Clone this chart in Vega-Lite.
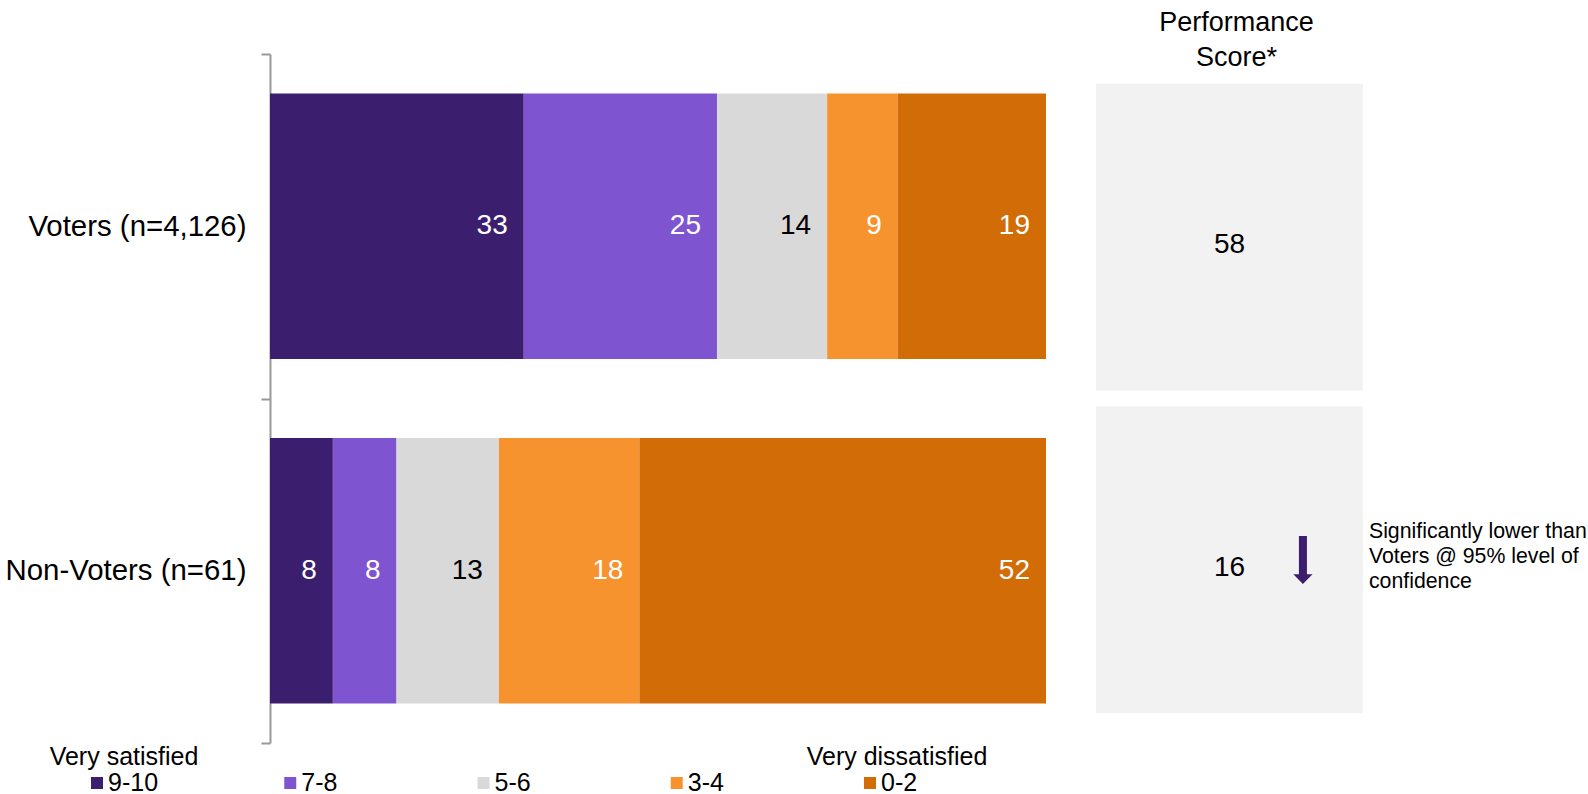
{
  "$schema": "https://vega.github.io/schema/vega-lite/v6.json",
  "padding": {"left": 5, "top": 9, "right": 0, "bottom": 0},
  "background": "#ffffff",
  "config": {
    "view": {"stroke": null},
    "font": "Liberation Sans",
    "text": {"font": "Liberation Sans", "color": "#000000"}
  },
  "datasets": {
    "bars": [
      {"group": "Voters (n=4,126)", "rating": "9-10", "pct": 32.7},
      {"group": "Voters (n=4,126)", "rating": "7-8", "pct": 24.9},
      {"group": "Voters (n=4,126)", "rating": "5-6", "pct": 14.2},
      {"group": "Voters (n=4,126)", "rating": "3-4", "pct": 9.1},
      {"group": "Voters (n=4,126)", "rating": "0-2", "pct": 19.1},
      {"group": "Non-Voters (n=61)", "rating": "9-10", "pct": 8.1},
      {"group": "Non-Voters (n=61)", "rating": "7-8", "pct": 8.2},
      {"group": "Non-Voters (n=61)", "rating": "5-6", "pct": 13.2},
      {"group": "Non-Voters (n=61)", "rating": "3-4", "pct": 18.1},
      {"group": "Non-Voters (n=61)", "rating": "0-2", "pct": 52.4}
    ],
    "scores": [
      {"group": "Voters (n=4,126)", "score": 58, "note": ""},
      {"group": "Non-Voters (n=61)", "score": 16, "note": "Significantly lower than\nVoters @ 95% level of\nconfidence"}
    ],
    "legend": [
      {"rating": "9-10", "end": "Very satisfied"},
      {"rating": "7-8", "end": ""},
      {"rating": "5-6", "end": ""},
      {"rating": "3-4", "end": ""},
      {"rating": "0-2", "end": "Very dissatisfied"}
    ]
  },
  "spacing": 0,
  "vconcat": [
    {
      "hconcat": [
        {
          "width": 776,
          "height": 689,
          "data": {"name": "bars"},
          "transform": [
            {"calculate": "indexof(['9-10','7-8','5-6','3-4','0-2'], datum.rating)", "as": "ord"}
          ],
          "encoding": {
            "y": {
              "field": "group",
              "type": "nominal",
              "sort": ["Voters (n=4,126)", "Non-Voters (n=61)"],
              "scale": {"paddingInner": 0, "paddingOuter": 0},
              "axis": {
                "title": null,
                "tickBand": "extent",
                "domainColor": "#999999",
                "domainWidth": 2,
                "tickColor": "#999999",
                "tickWidth": 2,
                "tickSize": 9,
                "labelFontSize": 29.4,
                "labelFont": "Liberation Sans",
                "labelColor": "#000000",
                "labelPadding": 15,
                "labelLimit": 400
              }
            },
            "x": {
              "field": "pct",
              "type": "quantitative",
              "stack": "zero",
              "scale": {"domain": [0, 100], "nice": false},
              "axis": null
            },
            "order": {"field": "ord", "type": "quantitative"}
          },
          "layer": [
            {
              "mark": {"type": "bar", "height": {"band": 0.77}},
              "encoding": {
                "color": {
                  "field": "rating",
                  "type": "nominal",
                  "scale": {
                    "domain": ["9-10", "7-8", "5-6", "3-4", "0-2"],
                    "range": ["#3c1e6e", "#7f54d1", "#d9d9d9", "#f7932f", "#d26c07"]
                  },
                  "legend": null
                }
              }
            },
            {
              "mark": {"type": "text", "align": "right", "baseline": "middle", "dx": -16, "fontSize": 28},
              "encoding": {
                "detail": {"field": "rating"},
                "text": {"field": "pct", "type": "quantitative", "format": ".0f"},
                "color": {
                  "condition": {"test": "datum.rating === '5-6'", "value": "#000000"},
                  "value": "#ffffff"
                }
              }
            }
          ]
        },
        {
          "width": 267,
          "height": 689,
          "data": {"name": "scores"},
          "title": {
            "text": ["Performance", "Score*"],
            "fontSize": 27,
            "fontWeight": "normal",
            "font": "Liberation Sans",
            "color": "#000000",
            "lineHeight": 35,
            "offset": -18,
            "anchor": "middle",
            "dx": 7
          },
          "encoding": {
            "y": {
              "field": "group",
              "type": "nominal",
              "sort": ["Voters (n=4,126)", "Non-Voters (n=61)"],
              "scale": {"paddingInner": 0.05, "paddingOuter": 0.092},
              "axis": null
            }
          },
          "layer": [
            {"mark": {"type": "bar", "color": "#f2f2f2"}},
            {
              "mark": {"type": "text", "fontSize": 28, "baseline": "middle", "align": "center", "dy": 8},
              "encoding": {
                "text": {"field": "score", "type": "quantitative"}
              }
            },
            {
              "transform": [{"filter": "datum.note !== ''"}],
              "mark": {
                "type": "point",
                "shape": "M -0.167 -1 L 0.167 -1 L 0.167 0.6 L 0.4 0.6 L 0 1 L -0.4 0.6 L -0.167 0.6 Z",
                "filled": true,
                "color": "#3c1e6e",
                "opacity": 1,
                "size": 2304
              },
              "encoding": {
                "x": {
                  "datum": "sig",
                  "type": "nominal",
                  "scale": {"type": "point", "domain": ["sig"], "padding": 0.5, "align": 0.775},
                  "axis": null
                }
              }
            },
            {
              "transform": [{"filter": "datum.note !== ''"}],
              "mark": {"type": "text", "align": "left", "baseline": "middle", "dx": 66, "dy": -28, "fontSize": 21.3, "lineHeight": 25, "lineBreak": "\n"},
              "encoding": {
                "x": {"datum": "sig", "type": "nominal"},
                "text": {"field": "note"}
              }
            }
          ]
        }
      ],
      "spacing": 50,
      "bounds": "flush"
    },
    {
      "width": 776,
      "height": 52,
      "data": {"name": "legend"},
      "encoding": {
        "x": {
          "field": "rating",
          "type": "nominal",
          "sort": ["9-10", "7-8", "5-6", "3-4", "0-2"],
          "scale": {"type": "point", "padding": 0, "range": [-173, 600]},
          "axis": null
        }
      },
      "layer": [
        {
          "mark": {"type": "point", "shape": "square", "filled": true, "size": 144, "opacity": 1},
          "encoding": {
            "y": {"datum": "item", "type": "nominal", "scale": {"type": "point", "domain": ["title", "item"], "padding": 0.5}, "axis": null},
            "color": {
              "field": "rating",
              "type": "nominal",
              "scale": {
                "domain": ["9-10", "7-8", "5-6", "3-4", "0-2"],
                "range": ["#3c1e6e", "#7f54d1", "#d9d9d9", "#f7932f", "#d26c07"]
              },
              "legend": null
            }
          }
        },
        {
          "mark": {"type": "text", "align": "left", "baseline": "middle", "dx": 11, "fontSize": 25},
          "encoding": {
            "y": {"datum": "item", "type": "nominal"},
            "text": {"field": "rating"}
          }
        },
        {
          "transform": [{"filter": "datum.end !== ''"}],
          "mark": {"type": "text", "align": "center", "baseline": "middle", "dx": 27, "fontSize": 25},
          "encoding": {
            "y": {"datum": "title", "type": "nominal"},
            "text": {"field": "end"}
          }
        }
      ]
    }
  ]
}
